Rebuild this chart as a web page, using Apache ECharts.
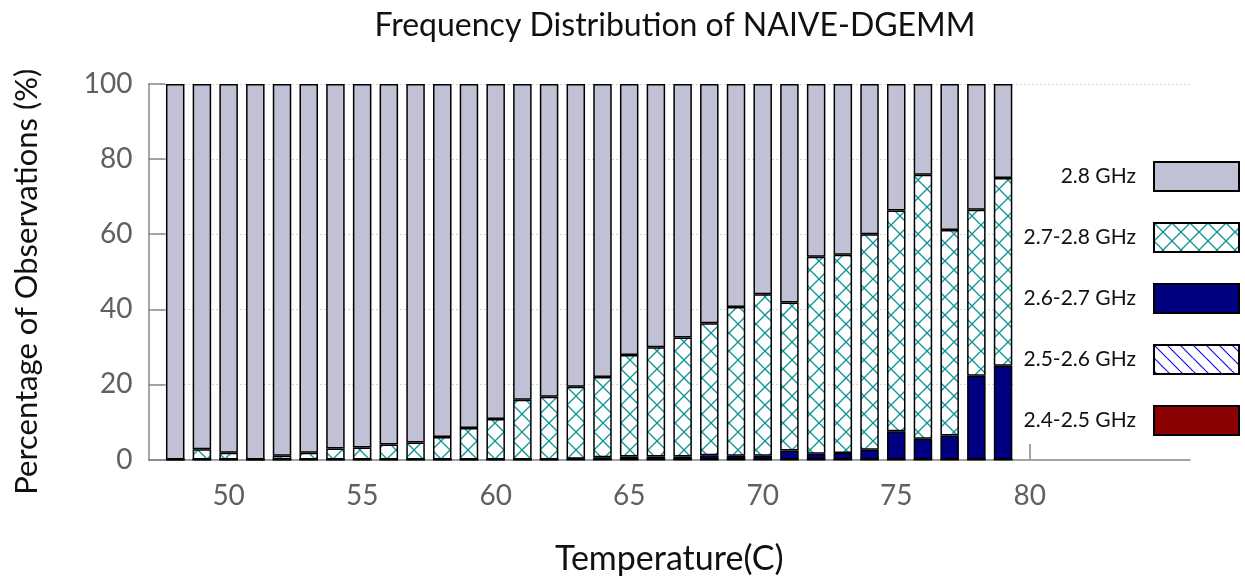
<!DOCTYPE html>
<html>
<head>
<meta charset="utf-8">
<script src="https://cdn.jsdelivr.net/npm/echarts@6/dist/echarts.min.js"></script>
<style>
  html, body { margin: 0; padding: 0; background: #fff; }
  #chart { width: 1245px; height: 582px; }
</style>
</head>
<body>
<div id="chart"></div>
<script>
// Temperature axis extent (°C), one slot per degree
const axisTemps = [47, 48, 49, 50, 51, 52, 53, 54, 55, 56, 57, 58, 59, 60, 61, 62, 63, 64, 65, 66,
                   67, 68, 69, 70, 71, 72, 73, 74, 75, 76, 77, 78, 79, 80, 81, 82, 83, 84, 85, 86];

// Temperature bins with observations (°C)
const temps = [48, 49, 50, 51, 52, 53, 54, 55, 56, 57, 58, 59, 60, 61, 62, 63,
               64, 65, 66, 67, 68, 69, 70, 71, 72, 73, 74, 75, 76, 77, 78, 79];

// Share of observations (%) per frequency band
const ghz28 = [100, 97.3, 98.2, 100, 99.0, 98.2, 97.1, 96.8, 96.0, 95.5, 94.0, 91.6, 89.2, 84.1, 83.3, 80.6,
               78.0, 72.2, 70.1, 67.5, 63.7, 59.4, 56.0, 58.2, 46.0, 45.5, 40.0, 33.7, 24.2, 38.9, 33.5, 25.0];
const ghz27to28 = [0, 2.7, 1.8, 0, 1.0, 1.8, 2.9, 3.2, 4.0, 4.5, 6.0, 8.4, 10.8, 15.9, 16.7, 19.2,
                   21.4, 27.0, 29.1, 31.7, 35.2, 39.6, 43.0, 39.4, 52.5, 52.8, 57.4, 58.8, 70.3, 54.7, 44.2, 50.0];
const ghz26to27 = [0, 0, 0, 0, 0, 0, 0, 0, 0, 0, 0, 0, 0, 0, 0, 0.2,
                   0.6, 0.8, 0.8, 0.8, 1.1, 1.0, 1.0, 2.4, 1.5, 1.7, 2.6, 7.5, 5.5, 6.4, 22.3, 25.0];
const ghz25to26 = [0, 0, 0, 0, 0, 0, 0, 0, 0, 0, 0, 0, 0, 0, 0, 0,
                   0, 0, 0, 0, 0, 0, 0, 0, 0, 0, 0, 0, 0, 0, 0, 0];
const ghz24to25 = [0, 0, 0, 0, 0, 0, 0, 0, 0, 0, 0, 0, 0, 0, 0, 0,
                   0, 0, 0, 0, 0, 0, 0, 0, 0, 0, 0, 0, 0, 0, 0, 0];

const xTicks = [50, 55, 60, 65, 70, 75, 80];
const yTicks = [0, 20, 40, 60, 80, 100];

// Fill patterns
function crossHatch(size, color) {
  const c = document.createElement('canvas');
  c.width = size; c.height = size;
  const g = c.getContext('2d');
  g.fillStyle = '#fff';
  g.fillRect(0, 0, size, size);
  g.strokeStyle = color;
  g.lineWidth = 1.3;
  g.beginPath();
  g.moveTo(0, 0); g.lineTo(size, size);
  g.moveTo(size, 0); g.lineTo(0, size);
  g.stroke();
  return c;
}
function diagHatch(size, color) {
  const c = document.createElement('canvas');
  c.width = size; c.height = size;
  const g = c.getContext('2d');
  g.fillStyle = '#fff';
  g.fillRect(0, 0, size, size);
  g.strokeStyle = color;
  g.lineWidth = 1.2;
  g.beginPath();
  for (const o of [-size, 0, size]) {
    g.moveTo(o, 0); g.lineTo(o + size, size);
  }
  g.stroke();
  return c;
}

const FONT = 'Lato, "Open Sans", sans-serif';
const chart = echarts.init(document.getElementById('chart'), null, { renderer: 'canvas' });

const cats = axisTemps.map(String);
function pairs(vals) { return temps.map((t, i) => [String(t), vals[i]]); }
const isTick = (idx, val) => xTicks.includes(Number(val));

const barBase = {
  type: 'bar',
  stack: 'freq',
  barWidth: 18.5,
  emphasis: { disabled: true },
  animation: false
};
const border = { borderColor: '#000', borderWidth: 1.5 };

chart.setOption({
  animation: false,
  title: {
    text: 'Frequency Distribution of NAIVE-DGEMM',
    left: 670,
    top: 5,
    textAlign: 'center',
    textStyle: { fontFamily: FONT, fontSize: 32, fontWeight: 'normal', color: '#111' }
  },
  grid: { left: 148.5, right: 55, top: 84, bottom: 122.5, containLabel: false },
  xAxis: {
    type: 'category',
    data: cats,
    boundaryGap: false,
    name: 'Temperature(C)',
    nameLocation: 'middle',
    nameGap: 83,
    nameTextStyle: { fontFamily: FONT, fontSize: 34, color: '#111' },
    axisLine: { show: true, lineStyle: { color: '#888', width: 1.5 } },
    axisTick: { show: true, inside: true, length: 16, interval: isTick, lineStyle: { color: '#888', width: 1.5 } },
    axisLabel: { interval: isTick, margin: 22, fontFamily: FONT, fontSize: 28, color: '#606060' },
    splitLine: { show: false }
  },
  yAxis: {
    type: 'value',
    min: 0,
    max: 100,
    interval: 20,
    name: 'Percentage of Observations (%)',
    nameLocation: 'middle',
    nameGap: 106,
    nameTextStyle: { fontFamily: FONT, fontSize: 31, color: '#111', padding: [0, 20, 0, 0] },
    axisLine: { show: true, lineStyle: { color: '#888', width: 1.5 } },
    axisTick: { show: true, inside: true, length: 17, lineStyle: { color: '#888', width: 1.5 } },
    axisLabel: { margin: 16, fontFamily: FONT, fontSize: 28, color: '#606060',
                 formatter: v => (yTicks.includes(v) ? String(v) : '') },
    splitLine: { show: true, lineStyle: { color: '#aaa', type: [1, 3], width: 1 } }
  },
  legend: {
    orient: 'vertical',
    right: 0,
    top: 153,
    align: 'right',
    itemWidth: 85,
    itemHeight: 29,
    itemGap: 30,
    padding: [8, 5, 8, 10],
    backgroundColor: '#fff',
    icon: 'rect',
    data: ['2.8 GHz', '2.7-2.8 GHz', '2.6-2.7 GHz', '2.5-2.6 GHz', '2.4-2.5 GHz'],
    textStyle: { fontFamily: FONT, fontSize: 21, color: '#111', width: 117, align: 'right', padding: [0, 13, 0, 0] }
  },
  series: [
    Object.assign({}, barBase, { name: '2.4-2.5 GHz', data: pairs(ghz24to25),
      itemStyle: Object.assign({ color: '#8b0000' }, border) }),
    Object.assign({}, barBase, { name: '2.5-2.6 GHz', data: pairs(ghz25to26),
      itemStyle: Object.assign({ color: { image: diagHatch(13, '#1010f0'), repeat: 'repeat' } }, border) }),
    Object.assign({}, barBase, { name: '2.6-2.7 GHz', data: pairs(ghz26to27),
      itemStyle: Object.assign({ color: '#000080' }, border) }),
    Object.assign({}, barBase, { name: '2.7-2.8 GHz', data: pairs(ghz27to28),
      itemStyle: Object.assign({ color: { image: crossHatch(18, '#0a9494'), repeat: 'repeat' } }, border) }),
    Object.assign({}, barBase, { name: '2.8 GHz', data: pairs(ghz28),
      itemStyle: Object.assign({ color: '#c1c1d6' }, border) })
  ]
});
</script>
</body>
</html>
